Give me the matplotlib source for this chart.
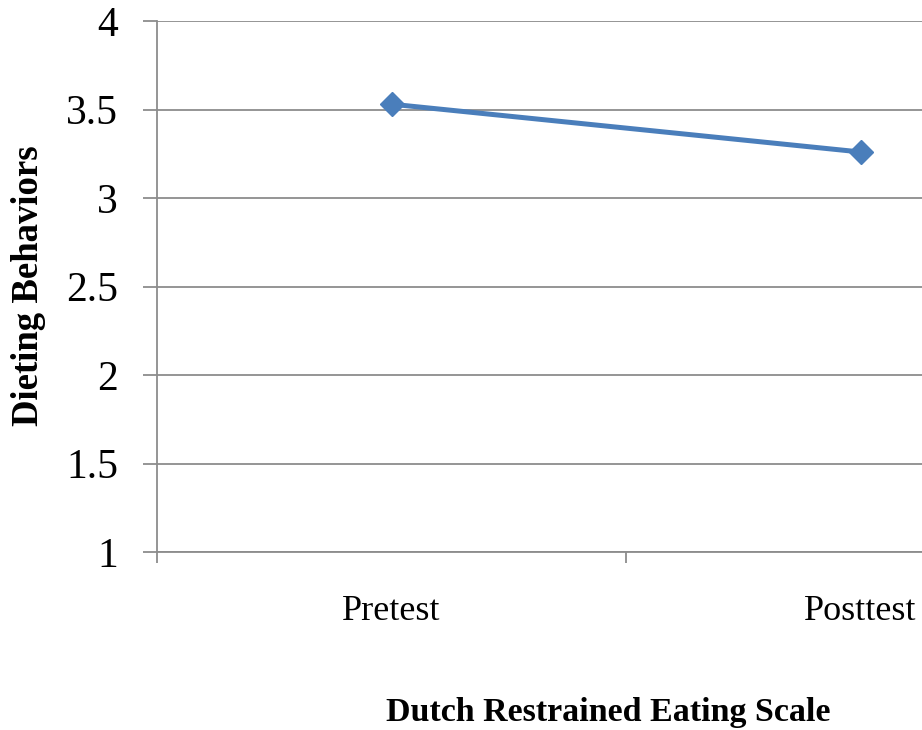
import matplotlib
matplotlib.use("Agg")
import matplotlib.pyplot as plt

plt.rcParams["font.family"] = ["Liberation Serif", "DejaVu Serif"]

# mean dieting-behavior scores
phases = ["Pretest", "Posttest"]
scores = [3.53, 3.26]
y_ticks = [1, 1.5, 2, 2.5, 3, 3.5, 4]

grid_c = "#8c8c8c"
line_c = "#4a7ebb"

fig = plt.figure(figsize=(9.22, 7.30), dpi=100)
# plot area runs past the right edge of the figure
ax = fig.add_axes([157 / 922, 178 / 730, 938 / 922, 531 / 730])

x = list(range(len(phases)))
ax.plot(x, scores, color=line_c, lw=3.6, marker="D", ms=12,
        mfc=line_c, mec=line_c, zorder=3, clip_on=False)

ax.set_xlim(-0.5, len(phases) - 0.5)
ax.set_ylim(1, 4)
ax.set_yticks(y_ticks)
ax.set_yticklabels([f"{v:g}" for v in y_ticks])
ax.grid(axis="y", color=grid_c, lw=1.3)
ax.set_axisbelow(True)

ax.set_xticks(x)
ax.set_xticklabels(phases)
# category boundary ticks
ax.set_xticks([-0.5, 0.5, 1.5], minor=True)

for s in ["top", "right"]:
    ax.spines[s].set_visible(False)
for s in ["left", "bottom"]:
    ax.spines[s].set_color(grid_c)
    ax.spines[s].set_linewidth(1.3)

ax.tick_params(axis="y", length=10, width=1.3, color=grid_c, pad=18,
               labelsize=30, direction="out")
ax.tick_params(axis="x", which="major", length=0, pad=31, labelsize=26)
ax.tick_params(axis="x", which="minor", length=8, width=1.3, color=grid_c,
               direction="out")

fig.text(28 / 922, 1 - 286 / 730, "Dieting Behaviors", rotation=90,
         ha="center", va="center", fontsize=26.5, fontweight="bold")
fig.text(608 / 922, 1 - 713 / 730, "Dutch Restrained Eating Scale",
         ha="center", va="center", fontsize=24.5, fontweight="bold")

fig.savefig("out.png", dpi=100)
